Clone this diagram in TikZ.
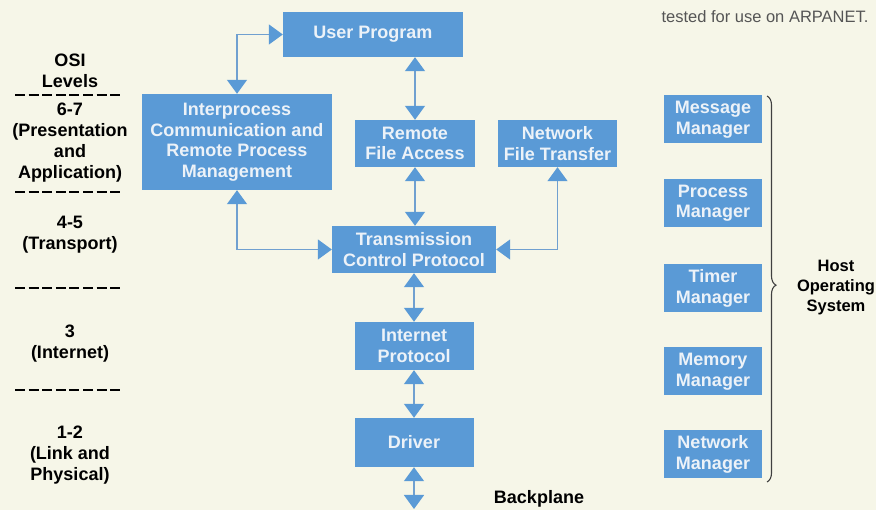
\documentclass[tikz,border=0pt]{standalone}
\usepackage{fontspec}
\setmainfont{Liberation Sans}
\usetikzlibrary{arrows.meta,decorations.pathreplacing}
\definecolor{bg}{RGB}{246,246,232}
\definecolor{boxblue}{RGB}{90,154,214}
\definecolor{boxtext}{RGB}{236,242,248}
\definecolor{linecol}{RGB}{112,160,208}
\definecolor{greytext}{RGB}{85,85,85}
\tikzset{
  blk/.style={fill=boxblue, text=boxtext, font=\fontsize{18}{20.5}\selectfont\bfseries, align=center, inner sep=0pt},
  lvl/.style={font=\fontsize{18}{21}\selectfont\bfseries, align=center, text=black},
  sepline/.style={line width=2.8pt, dash pattern=on 10pt off 3.6pt, black},
  conn/.style={draw=linecol, line width=1.4pt,
    {Triangle[width=20pt,length=14pt,color=boxblue]}-{Triangle[width=20pt,length=14pt,color=boxblue]}},
}
\begin{document}
\begin{tikzpicture}[x=1pt,y=-1pt]
\useasboundingbox[fill=bg] (0,0) rectangle (876,510);

% main boxes
\node[blk, minimum width=180pt, minimum height=45pt] (UP) at (373,34.5) {User Program};
\node[blk, minimum width=190pt, minimum height=96pt] (IPC) at (237,142) {Interprocess\\Communication and\\Remote Process\\Management};
\node[blk, minimum width=120pt, minimum height=47pt] (RFA) at (415,143.5) {Remote\\File Access};
\node[blk, minimum width=119pt, minimum height=47pt] (NFT) at (557.5,143.5) {Network\\File Transfer};
\node[blk, minimum width=164pt, minimum height=47pt] (TCP) at (414,249.5) {Transmission\\Control Protocol};
\node[blk, minimum width=119pt, minimum height=48pt] (IP) at (414,346) {Internet\\Protocol};
\node[blk, minimum width=119pt, minimum height=49pt] (DRV) at (414,442.5) {Driver};
\coordinate (BP) at (414,509);
\node[lvl, anchor=center] (bplabel) at (539,499) {Backplane};

% managers
\node[blk, minimum width=98pt, minimum height=48pt] (MSG) at (713,119.5) {Message\\Manager};
\node[blk, minimum width=98pt, minimum height=48pt] (PRC) at (713,203) {Process\\Manager};
\node[blk, minimum width=98pt, minimum height=48pt] (TMR) at (713,288.5) {Timer\\Manager};
\node[blk, minimum width=98pt, minimum height=48pt] (MEM) at (713,371.5) {Memory\\Manager};
\node[blk, minimum width=98pt, minimum height=48pt] (NET) at (713,454.5) {Network\\Manager};
\draw[decorate, decoration={brace, amplitude=9pt, aspect=0.49}, line width=1.1pt, draw=black!75]
  (767,96) -- (767,482);
\node[lvl, font=\fontsize{16.5}{20}\selectfont\bfseries] (host) at (836,288) {Host\\Operating\\System};

% connectors
\draw[conn] (IPC.north) |- (UP.west);
\draw[conn] (UP.south -| RFA.north) -- (RFA.north);
\draw[conn] (RFA.south) -- (RFA.south |- TCP.north);
\draw[conn] (IPC.south) |- (TCP.west);
\draw[conn] (NFT.south) |- (TCP.east);
\draw[conn] (TCP.south -| IP.north) -- (IP.north);
\draw[conn] (IP.south) -- (DRV.north);
\draw[conn] (DRV.south) -- (BP);

% OSI levels
\node[lvl] (osi) at (70,70.5) {OSI\\Levels};
\draw[sepline] (15,95) -- (122,95);
\node[lvl] (l67) at (70,143) {6-7\\(Presentation\\and\\Application)};
\draw[sepline] (15,192) -- (122,192);
\node[lvl] (l45) at (70,235) {4-5\\(Transport)};
\draw[sepline] (15,288) -- (122,288);
\node[lvl] (l3) at (70,343.5) {3\\(Internet)};
\draw[sepline] (15,390) -- (122,390);
\node[lvl] (l12) at (70,455) {1-2\\(Link and\\Physical)};

% page text
\node[text=greytext, font=\fontsize{16.5}{20}\selectfont] (ptext) at (765,17) {tested for use on ARPANET.};
\end{tikzpicture}
\end{document}
